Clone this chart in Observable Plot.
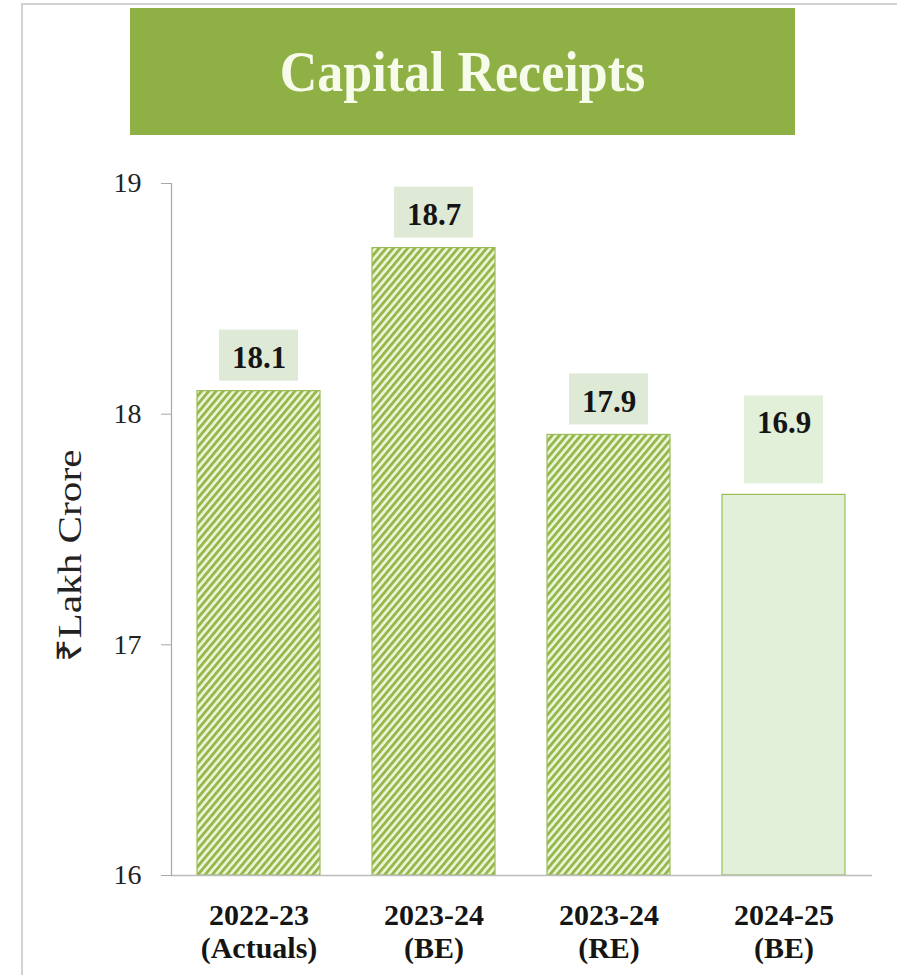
<!DOCTYPE html>
<html><head><meta charset="utf-8">
<script src="https://cdn.jsdelivr.net/npm/d3@7"></script>
<script src="https://cdn.jsdelivr.net/npm/@observablehq/plot@0.6"></script>
<style>
body{margin:0;background:#fff;}
#wrap{position:relative;width:897px;height:975px;overflow:hidden;font-family:"Liberation Serif","Times New Roman",serif;}
#border{position:absolute;left:21px;top:3px;right:-2px;bottom:-2px;border-left:2px solid #d2d2d2;border-top:2px solid #d2d2d2;}
#title{position:absolute;left:130px;top:8px;width:665px;height:127px;background:#8eb045;color:#f7fbea;font-weight:bold;font-size:52px;display:flex;align-items:center;justify-content:center;}
#title span{display:inline-block;transform:scaleY(1.1);}
#chart{position:absolute;left:0;top:150px;}
</style></head>
<body>
<div id="wrap">
  <div id="border"></div>
  <div id="title"><span>Capital Receipts</span></div>
  <div id="chart"></div>
</div>
<script>
const categories = ["2022-23\n(Actuals)", "2023-24\n(BE)", "2023-24\n(RE)", "2024-25\n(BE)"];
const barValues = [18.1, 18.72, 17.91, 17.65];
const labelTexts = ["18.1", "18.7", "17.9", "16.9"];
const hatched = [true, true, true, false];
const yTicks = [16, 17, 18, 19];
const yLabel = "₹Lakh Crore";

const rows = categories.map((c, i) => ({cat: c, v: barValues[i], label: labelTexts[i], hatched: hatched[i]}));
const hatchRows = rows.filter(d => d.hatched);
const plainRows = rows.filter(d => !d.hatched);

const green = "#9bbb59";
const svg = Plot.plot({
  width: 897,
  height: 825,
  marginTop: 33,
  marginBottom: 100,
  marginLeft: 171,
  marginRight: 25,
  style: {fontFamily: "'Liberation Serif','Times New Roman',serif", color: "#111", background: "transparent"},
  x: {type: "band", domain: categories, paddingInner: 0.295, paddingOuter: 0.1475},
  y: {domain: [16, 19]},
  marks: [
    Plot.barY(hatchRows, {x: "cat", y1: 16, y2: "v", fill: "url(#hatch)", stroke: green, strokeWidth: 1.2}),
    Plot.barY(plainRows, {x: "cat", y1: 16, y2: "v", fill: "#e2efd9", stroke: green, strokeWidth: 1.2}),
    Plot.barY(hatchRows, {x: "cat", y1: "v", y2: "v", fill: "#dfead6", insetTop: -61, insetBottom: 10, insetLeft: 22, insetRight: 22}),
    Plot.barY(plainRows, {x: "cat", y1: "v", y2: "v", fill: "#e2efd9", insetTop: -99, insetBottom: 11, insetLeft: 22, insetRight: 22}),
    Plot.text(hatchRows, {x: "cat", y: "v", text: "label", dy: -33, fontSize: 31, fontWeight: "bold", fill: "#151515", className: "barlab"}),
    Plot.text(plainRows, {x: "cat", y: "v", text: "label", dy: -72, fontSize: 31, fontWeight: "bold", fill: "#151515", className: "barlab"}),
    Plot.ruleY([16], {stroke: "#bdbdbd", strokeWidth: 1.5}),
    Plot.frame({anchor: "left", stroke: "#a8a8a8", strokeWidth: 1.2}),
    Plot.axisY({ticks: yTicks, tickFormat: d => String(d), tickSize: 10, tickPadding: 20, fontSize: 28, stroke: "#a8a8a8", fill: "#222", label: null}),
    Plot.axisX({tickSize: 0, tickPadding: 26, fontSize: 30, fontWeight: "bold", lineHeight: 1.1, fill: "#151515", label: null}),
    Plot.text([yLabel], {frameAnchor: "left", rotate: -90, dx: -101, dy: 26, fontSize: 34, textAnchor: "middle", fill: "#222", className: "ylab"})
  ]
});

const defs = d3.select(svg).insert("defs", ":first-child");
const pat = defs.append("pattern")
  .attr("id", "hatch")
  .attr("patternUnits", "userSpaceOnUse")
  .attr("width", 5.5).attr("height", 5.5)
  .attr("patternTransform", "rotate(40)");
pat.append("rect").attr("width", 5.5).attr("height", 5.5).attr("fill", "#eff6da");
pat.append("rect").attr("width", 2.9).attr("height", 5.5).attr("fill", "#95b84d");

// stretch the rotated axis title along its length, as in the reference
d3.select(svg).selectAll(".ylab text").attr("textLength", 212).attr("lengthAdjust", "spacingAndGlyphs");

document.getElementById("chart").appendChild(svg);
</script>
</body></html>
